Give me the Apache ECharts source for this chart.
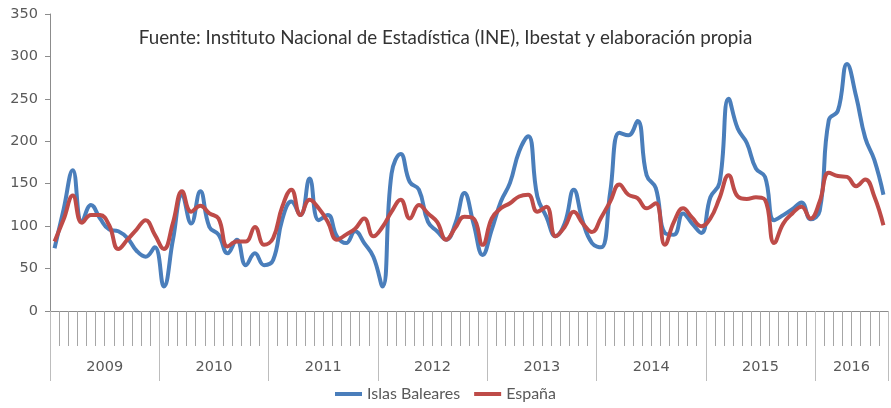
<!DOCTYPE html>
<html>
<head>
<meta charset="utf-8">
<script src="https://cdn.jsdelivr.net/npm/echarts@6/dist/echarts.min.js"></script>
<style>
  html, body { margin: 0; padding: 0; background: #fff; }
  #chart { width: 891px; height: 408px; }
</style>
</head>
<body>
<div id="chart"></div>
<script>
// years on the axis and how many months each one has
var years = ['2009', '2010', '2011', '2012', '2013', '2014', '2015', '2016'];
var monthsPerYear = [12, 12, 12, 12, 12, 12, 12, 8];

var baleares = [
  74, 120, 166, 105, 125, 109, 96, 94, 86, 71, 64, 75,
  29, 84, 137, 103, 141, 99, 90, 68, 84, 54, 68, 54,
  60, 108, 129, 113, 156, 107, 113, 88, 80, 94, 80, 64,
  29, 162, 185, 152, 143, 105, 94, 84, 103, 139, 103, 66,
  96, 129, 151, 188, 206, 135, 111, 88, 103, 143, 105, 80,
  75, 140, 210, 207, 224, 160, 145, 92, 90, 115, 103, 92,
  134, 151, 250, 215, 198, 168, 158, 107, 113, 120, 128, 108,
  118, 225, 236, 291, 253, 204, 178, 137
];
var espana = [
  82, 108, 136, 104, 113, 113, 101, 73, 84, 96, 107, 90,
  73, 104, 141, 117, 124, 115, 109, 76, 82, 82, 99, 78,
  86, 123, 143, 113, 131, 121, 105, 84, 90, 97, 109, 88,
  99, 117, 131, 109, 125, 115, 105, 84, 98, 111, 109, 78,
  109, 121, 127, 135, 137, 117, 123, 88, 99, 117, 103, 93,
  110, 129, 149, 137, 133, 121, 127, 78, 105, 121, 110, 100,
  109, 133, 160, 135, 132, 134, 131, 80, 103, 115, 123, 109,
  129, 163, 159, 158, 147, 155, 135, 101
];

var seriesNames = ['Islas Baleares', 'España'];
var titleText = 'Fuente: Instituto Nacional de Estadística (INE), Ibestat y elaboración propia';

// month categories, year start indexes and year label centres
var months = [];
var yearStart = {};
var yearCenter = {};
var pos = 0;
for (var i = 0; i < years.length; i++) {
  yearStart[pos] = true;
  yearCenter[pos + monthsPerYear[i] / 2] = years[i];
  for (var m = 1; m <= monthsPerYear[i]; m++) {
    months.push(years[i] + '-' + m);
  }
  pos += monthsPerYear[i];
}

var chart = echarts.init(document.getElementById('chart'));

var option = {
  backgroundColor: '#ffffff',
  animation: false,
  title: {
    text: titleText,
    left: 'center',
    top: 23,
    textStyle: {
      fontFamily: 'Lato',
      fontWeight: 'normal',
      fontSize: 18.8,
      color: '#333333'
    }
  },
  legend: {
    data: seriesNames,
    bottom: 1,
    left: 'center',
    icon: 'rect',
    itemWidth: 27,
    itemHeight: 4,
    itemGap: 14,
    textStyle: {
      fontFamily: 'Lato',
      fontSize: 16,
      color: '#595959'
    }
  },
  grid: {
    left: 50,
    top: 14,
    width: 842,
    height: 297
  },
  xAxis: [{
    type: 'category',
    data: months,
    boundaryGap: true,
    axisLine: { lineStyle: { color: '#8c8c8c', width: 1 } },
    axisTick: { show: true, interval: 0, length: 35, lineStyle: { color: '#a6a6a6' } },
    axisLabel: { show: false }
  }, {
    // year separators
    type: 'category',
    data: months,
    position: 'bottom',
    boundaryGap: true,
    axisLine: { show: false },
    axisTick: {
      show: true,
      length: 70,
      interval: function (index) { return !!yearStart[index]; },
      lineStyle: { color: '#bdbdbd' }
    },
    axisLabel: { show: false }
  }, {
    // year labels
    type: 'value',
    position: 'bottom',
    min: 0,
    max: months.length,
    interval: 1,
    axisLine: { show: false },
    axisTick: { show: false },
    splitLine: { show: false },
    axisLabel: {
      margin: 49,
      fontFamily: 'DejaVu Sans',
      fontSize: 14.5,
      color: '#595959',
      showMinLabel: true,
      showMaxLabel: true,
      formatter: function (v) { return yearCenter[v] || ''; }
    }
  }],
  yAxis: {
    type: 'value',
    min: 0,
    max: 350,
    interval: 50,
    axisLine: { show: true, lineStyle: { color: '#8c8c8c' } },
    axisTick: { show: true, length: 5, lineStyle: { color: '#8c8c8c' } },
    splitLine: { show: false },
    axisLabel: {
      margin: 12,
      fontFamily: 'DejaVu Sans',
      fontSize: 14.5,
      color: '#595959'
    }
  },
  series: [{
    name: seriesNames[0],
    type: 'line',
    data: baleares,
    smooth: 0.45,
    symbol: 'none',
    color: '#4a7ebb',
    lineStyle: { width: 4, color: '#4a7ebb' }
  }, {
    name: seriesNames[1],
    type: 'line',
    data: espana,
    smooth: 0.45,
    symbol: 'none',
    color: '#be4b48',
    lineStyle: { width: 4, color: '#be4b48' }
  }]
};

chart.setOption(option);
</script>
</body>
</html>
